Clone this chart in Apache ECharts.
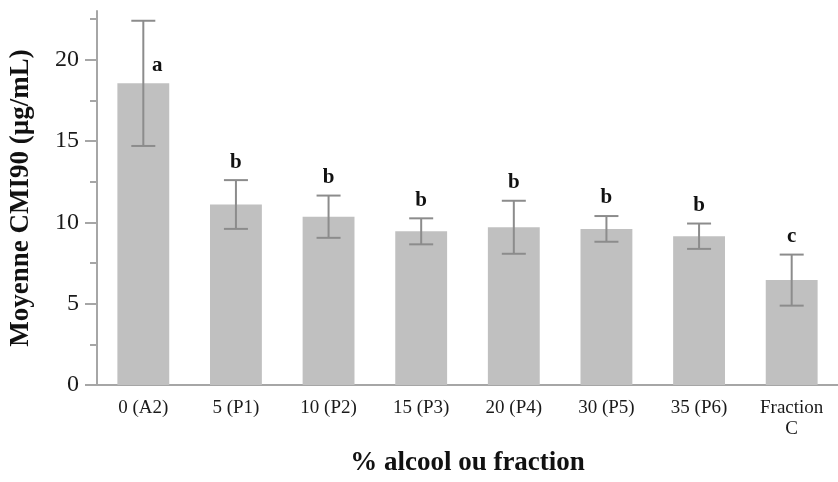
<!DOCTYPE html>
<html lang="fr">
<head>
    <meta charset="UTF-8">
    <title>Moyenne CMI90</title>
    <script src="https://cdn.jsdelivr.net/npm/echarts@6.0.0/dist/echarts.min.js"></script>
</head>
<body style="margin:0;">
<div id="main" style="width:838px;height:482px;"></div>
<script type="text/javascript">
    // données
    var categories = ['0 (A2)', '5 (P1)', '10 (P2)', '15 (P3)', '20 (P4)', '30 (P5)', '35 (P6)', 'Fraction\nC'];
    var means = [18.55, 11.1, 10.35, 9.45, 9.7, 9.6, 9.15, 6.45];
    var errors = [3.85, 1.5, 1.3, 0.8, 1.63, 0.79, 0.78, 1.57];
    var letters = ['a', 'b', 'b', 'b', 'b', 'b', 'b', 'c'];
    var majorTicks = [0, 5, 10, 15, 20];
    var minorTicks = [2.5, 7.5, 12.5, 17.5, 22.5];

    var serif = '"Liberation Serif", "Times New Roman", serif';
    var axisGray = '#a6a6a6';
    var errGray = '#8c8c8c';

    var errData = [];
    for (var i = 0; i < means.length; i++) {
        errData.push([i, means[i], errors[i]]);
    }

    var myChart = echarts.init(document.getElementById('main'));

    var option = {
        backgroundColor: '#ffffff',
        animation: false,
        grid: {
            left: 97,
            right: -7,
            top: 11,
            bottom: 93
        },
        xAxis: {
            type: 'category',
            data: categories,
            name: '% alcool ou fraction',
            nameLocation: 'middle',
            nameGap: 65,
            nameTextStyle: {
                fontFamily: serif,
                fontWeight: 'bold',
                fontSize: 27,
                color: '#111'
            },
            axisLine: {lineStyle: {color: axisGray, width: 2}},
            axisTick: {show: false},
            axisLabel: {
                fontFamily: serif,
                fontSize: 19,
                color: '#1a1a1a',
                margin: 13,
                lineHeight: 21,
                interval: 0
            }
        },
        yAxis: [{
            type: 'value',
            min: 0,
            max: 23,
            interval: 5,
            name: 'Moyenne CMI90 (µg/mL)',
            nameLocation: 'middle',
            nameGap: 62,
            nameTextStyle: {
                fontFamily: serif,
                fontWeight: 'bold',
                fontSize: 27,
                color: '#111'
            },
            axisLine: {show: true, lineStyle: {color: axisGray, width: 2}},
            axisTick: {
                show: true,
                customValues: majorTicks,
                length: 12,
                lineStyle: {color: axisGray, width: 2}
            },
            axisLabel: {
                customValues: majorTicks,
                fontFamily: serif,
                fontSize: 24,
                color: '#1a1a1a',
                margin: 18
            },
            splitLine: {show: false}
        }, {
            type: 'value',
            min: 0,
            max: 23,
            position: 'left',
            axisLine: {show: false},
            axisTick: {
                show: true,
                customValues: minorTicks,
                length: 7,
                lineStyle: {color: axisGray, width: 2}
            },
            axisLabel: {show: false},
            splitLine: {show: false}
        }],
        series: [
            {
                type: 'bar',
                data: means,
                barWidth: '56%',
                itemStyle: {color: '#c0c0c0'},
                silent: true
            },
            {
                type: 'custom',
                data: errData,
                z: 5,
                renderItem: function (params, api) {
                    var idx = api.value(0);
                    var m = api.value(1);
                    var e = api.value(2);
                    var top = api.coord([idx, m + e]);
                    var bot = api.coord([idx, m - e]);
                    var bar = api.coord([idx, m]);
                    var cap = 12;
                    var line = {stroke: errGray, lineWidth: 2};
                    // la lettre "a" est à côté de la barre d'erreur, les autres au-dessus
                    var tx = top[0], ty = top[1] - 18;
                    if (params.dataIndex === 0) {
                        tx = top[0] + 14;
                        ty = bar[1] - 18;
                    }
                    return {
                        type: 'group',
                        children: [
                            {type: 'line', shape: {x1: top[0], y1: top[1], x2: bot[0], y2: bot[1]}, style: line},
                            {type: 'line', shape: {x1: top[0] - cap, y1: top[1], x2: top[0] + cap, y2: top[1]}, style: line},
                            {type: 'line', shape: {x1: bot[0] - cap, y1: bot[1], x2: bot[0] + cap, y2: bot[1]}, style: line},
                            {
                                type: 'text',
                                x: tx,
                                y: ty,
                                style: {
                                    text: letters[params.dataIndex],
                                    fontFamily: serif,
                                    fontWeight: 'bold',
                                    fontSize: 21,
                                    fill: '#111',
                                    align: 'center',
                                    verticalAlign: 'middle'
                                }
                            }
                        ]
                    };
                }
            }
        ]
    };

    myChart.setOption(option);
</script>
</body>
</html>
